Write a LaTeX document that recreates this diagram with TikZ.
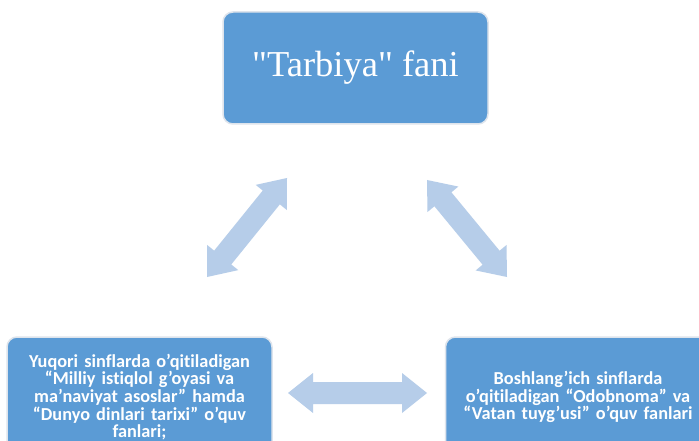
\documentclass[tikz,border=0pt]{standalone}
\usepackage{fontspec}
\setmainfont{Liberation Serif}
\newfontfamily\tserif{Liberation Serif}
\newfontfamily\calib{Carlito}[Ligatures={NoCommon,TeX}]
\usetikzlibrary{calc}
\definecolor{boxblue}{RGB}{91,155,213}
\definecolor{arrowblue}{RGB}{182,205,233}
\definecolor{boxedge}{RGB}{222,228,236}
% double block arrow between two named coordinates
\newcommand\dblarrow[2]{%
  \path ($(#1)!25pt!(#2)$) coordinate (H1) ($(#2)!25pt!(#1)$) coordinate (H2);
  \fill[arrowblue] (#1) -- ($(H1)!20pt!90:(#2)$) -- ($(H1)!11pt!90:(#2)$)
    -- ($(H2)!11pt!-90:(#1)$) -- ($(H2)!20pt!-90:(#1)$) -- (#2)
    -- ($(H2)!20pt!90:(#1)$) -- ($(H2)!11pt!90:(#1)$)
    -- ($(H1)!11pt!-90:(#2)$) -- ($(H1)!20pt!-90:(#2)$) -- cycle;}
\begin{document}
\begin{tikzpicture}[x=1pt,y=-1pt,
  box/.style={draw=boxedge, line width=1.5pt, fill=boxblue, rounded corners=10pt,
    text=white, inner sep=0pt, align=center, minimum width=265pt},
  smalltext/.style={font=\calib\bfseries\fontsize{18.3}{17.7}\selectfont, text width=260pt}]
\useasboundingbox (0,0) rectangle (699,441);
\clip (0,0) rectangle (699,441);
\fill[white] (0,0) rectangle (699,441);
\node[box, minimum height=112pt, font=\tserif\fontsize{36.5}{40}\selectfont] (top) at (355.5,68) {"Tarbiya" fani};
\node[box, smalltext, minimum height=120pt] (left) at (139.5,397)
  {Yuqori sinflarda o’qitiladigan\\“Milliy istiqlol g’oyasi va\\ma’naviyat asoslar” hamda\\“Dunyo dinlari tarixi” o’quv\\fanlari;};
\node[box, smalltext, minimum height=120pt] (right) at (578,397)
  {Boshlang’ich sinflarda\\o’qitiladigan “Odobnoma” va\\“Vatan tuyg’usi” o’quv fanlari};
\coordinate (l1) at (207,277);
\coordinate (l2) at (287,178);
\coordinate (r1) at (427,180);
\coordinate (r2) at (507,277);
\coordinate (h1) at (288,393);
\coordinate (h2) at (427,393);
\dblarrow{l1}{l2}
\dblarrow{r1}{r2}
\dblarrow{h1}{h2}
\end{tikzpicture}
\end{document}
